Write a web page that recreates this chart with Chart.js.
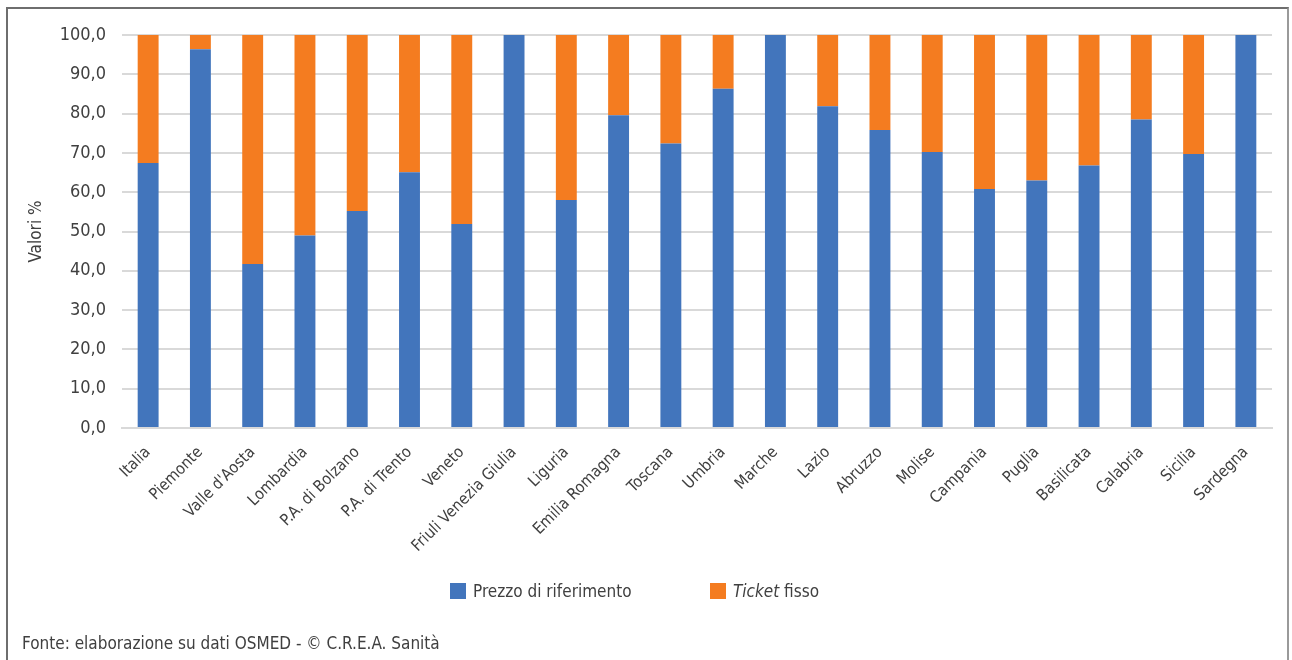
<!DOCTYPE html>
<html>
<head>
<meta charset="utf-8">
<script src="https://cdn.jsdelivr.net/npm/chart.js@4.4.1/dist/chart.umd.min.js"></script>
<style>
  html, body { margin: 0; padding: 0; background: #fff; }
  body { width: 1292px; height: 660px; position: relative; overflow: hidden;
         font-family: "Liberation Sans Narrow", "DejaVu Sans Condensed", "Liberation Sans", sans-serif; color: #404040; }
  #frame { position: absolute; left: 6px; top: 7px; width: 1283px; height: 700px;
           border: 2px solid #6e6e6e; border-right-color: #9a9a9a; box-sizing: border-box; }
  #wrap { position: absolute; left: 0; top: 0; width: 1292px; height: 660px; }
  .leg { position: absolute; top: 582px; font-size: 17px; line-height: 18px; white-space: nowrap; }
  .sw { display: inline-block; width: 16px; height: 16px; vertical-align: top; margin-right: 7px; margin-top: 1px; }
  #foot { position: absolute; left: 22px; top: 633px; font-size: 17px; line-height: 20px; white-space: nowrap; }
</style>
</head>
<body>
<div id="frame"></div>
<div id="wrap"><canvas id="c" width="1292" height="660"></canvas></div>
<div class="leg" style="left:450px"><span class="sw" style="background:#4275BC"></span>Prezzo di riferimento</div>
<div class="leg" style="left:710px"><span class="sw" style="background:#F47C20"></span><i>Ticket</i> fisso</div>
<div id="foot">Fonte: elaborazione su dati OSMED - © C.R.E.A. Sanità</div>
<script>
const categories = ["Italia", "Piemonte", "Valle d'Aosta", "Lombardia", "P.A. di Bolzano", "P.A. di Trento",
  "Veneto", "Friuli Venezia Giulia", "Liguria", "Emilia Romagna", "Toscana", "Umbria", "Marche",
  "Lazio", "Abruzzo", "Molise", "Campania", "Puglia", "Basilicata", "Calabria", "Sicilia", "Sardegna"];
const prezzoRiferimento = [67.4, 96.4, 41.7, 49.0, 55.2, 65.1, 51.9, 100.0, 58.0, 79.6, 72.4, 86.3, 100.0,
  81.9, 75.8, 70.2, 60.8, 63.0, 66.8, 78.5, 69.7, 100.0];
const ticketFisso = [32.6, 3.6, 58.3, 51.0, 44.8, 34.9, 48.1, 0.0, 42.0, 20.4, 27.6, 13.7, 0.0,
  18.1, 24.2, 29.8, 39.2, 37.0, 33.2, 21.5, 30.3, 0.0];
const yTicks = [0, 10, 20, 30, 40, 50, 60, 70, 80, 90, 100];

const FONT = "'Liberation Sans Narrow', 'DejaVu Sans Condensed', 'Liberation Sans', sans-serif";
const TXT = '#404040';

new Chart(document.getElementById('c'), {
  type: 'bar',
  data: {
    labels: categories,
    datasets: [
      { label: 'Prezzo di riferimento', data: prezzoRiferimento, backgroundColor: '#4275BC',
        borderWidth: 0, barPercentage: 0.4, categoryPercentage: 1.0 },
      { label: 'Ticket fisso', data: ticketFisso, backgroundColor: '#F47C20',
        borderWidth: 0, barPercentage: 0.4, categoryPercentage: 1.0 }
    ]
  },
  options: {
    responsive: false,
    animation: false,
    devicePixelRatio: 1,
    layout: { padding: { left: 22, right: 20, top: 35, bottom: 0 } },
    plugins: { legend: { display: false }, tooltip: { enabled: false } },
    scales: {
      x: {
        stacked: true,
        grid: { display: false, drawTicks: false },
        border: { display: true, color: '#d9d9d9', width: 2 },
        ticks: { color: TXT, font: { family: FONT, size: 16 }, minRotation: 45, maxRotation: 45,
                 autoSkip: false, padding: 15 },
        afterFit: (s) => { s.height = 232; }
      },
      y: {
        stacked: true,
        min: 0, max: 100,
        afterBuildTicks: (s) => { s.ticks = yTicks.map(v => ({ value: v })); },
        grid: { color: '#d9d9d9', lineWidth: 2, drawTicks: false },
        border: { display: false },
        ticks: { color: TXT, font: { family: FONT, size: 18 }, padding: 16,
                 callback: (v) => Number(v).toFixed(1).replace('.', ',') },
        title: { display: true, text: 'Valori %', color: TXT, font: { family: FONT, size: 17 }, padding: { top: 4, bottom: 4 } },
        afterFit: (s) => { s.width = 100; }
      }
    }
  }
});
</script>
</body>
</html>
